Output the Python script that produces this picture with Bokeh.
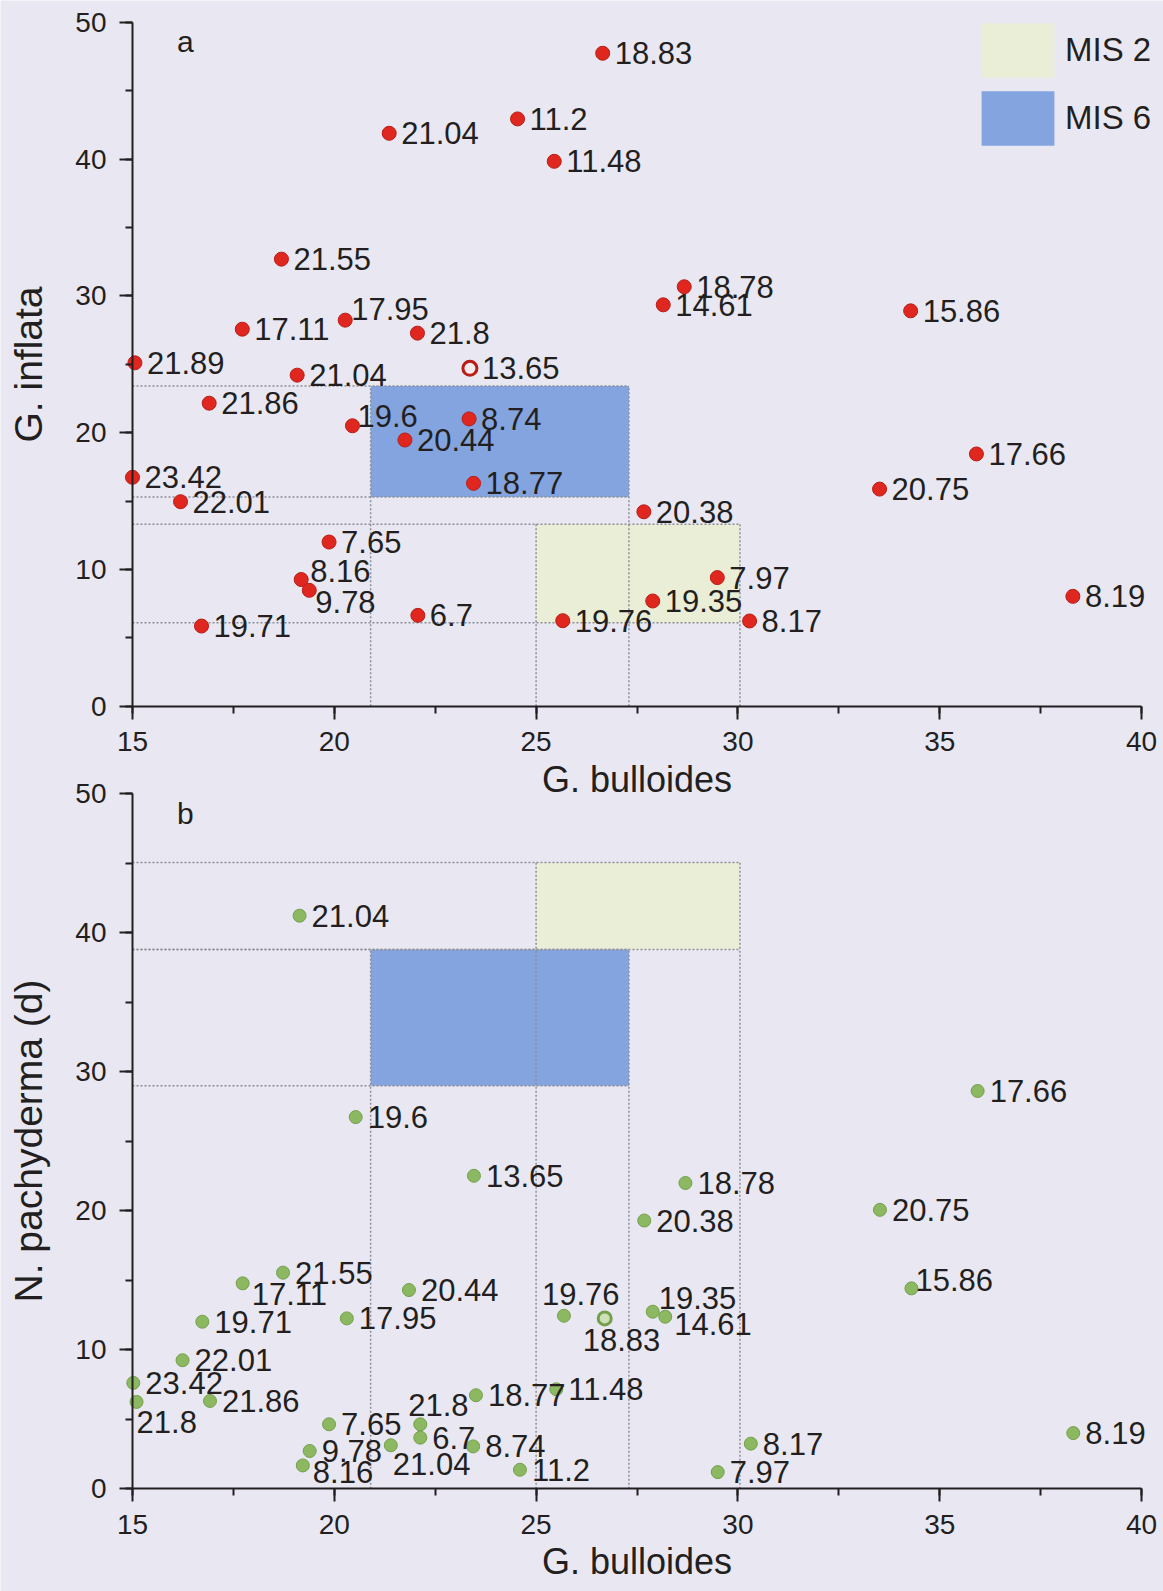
from bokeh.plotting import figure
from bokeh.models import (Range1d, LinearAxis, SingleIntervalTicker, ColumnDataSource,
                          Legend, LegendItem, Label)
from bokeh.core.properties import value
from bokeh.embed import file_html
from bokeh.resources import INLINE

# ---------------- data ----------------
# Panel a: G. bulloides (%) vs G. inflata (%), labelled with SST
a_bull = [26.65, 24.54, 21.36, 25.45, 18.69, 17.72, 20.27, 22.06, 28.67, 28.15, 34.28,
          15.06, 19.08, 23.36, 16.90, 20.45, 23.34, 21.75, 23.45, 15.00, 16.19, 19.87,
          19.18, 19.38, 22.07, 16.71, 25.66, 27.67, 35.91, 33.51, 29.49, 27.89, 30.29, 38.30]
a_infl = [47.73, 42.93, 41.88, 39.83, 32.68, 27.56, 28.22, 27.27, 30.66, 29.34, 28.90,
          25.10, 24.20, 24.70, 22.15, 20.50, 21.00, 19.46, 16.29, 16.73, 14.95, 12.00,
          9.26, 8.47, 6.64, 5.86, 6.25, 14.21, 18.44, 15.87, 9.40, 7.69, 6.23, 8.03]
a_sst = ["18.83", "11.2", "21.04", "11.48", "21.55", "17.11", "17.95", "21.8", "18.78", "14.61", "15.86",
         "21.89", "21.04", "13.65", "21.86", "19.6", "8.74", "20.44", "18.77", "23.42", "22.01", "7.65",
         "8.16", "9.78", "6.7", "19.71", "19.76", "20.38", "17.66", "20.75", "7.97", "19.35", "8.17", "8.19"]

# Panel b: G. bulloides (%) vs N. pachyderma (d) (%), labelled with SST
b_bull = [19.14, 20.53, 35.94, 23.46, 28.70, 27.68, 33.52, 18.73, 17.73, 21.85, 16.73, 20.31,
          16.24, 15.02, 15.10, 16.92, 23.51, 25.50, 19.87, 22.13, 22.13, 21.40, 19.39, 23.44,
          19.22, 24.60, 25.69, 26.70, 27.89, 28.20, 34.30, 30.32, 29.50, 38.31]
b_pach = [41.23, 26.74, 28.62, 22.52, 22.00, 19.30, 20.07, 15.55, 14.78, 14.30, 12.02, 12.26,
          9.25, 7.62, 6.25, 6.32, 6.73, 7.16, 4.64, 4.64, 3.68, 3.13, 2.72, 3.05,
          1.68, 1.37, 12.45, 12.26, 12.74, 12.38, 14.42, 3.25, 1.20, 4.01]
b_sst = ["21.04", "19.6", "17.66", "13.65", "18.78", "20.38", "20.75", "21.55", "17.11", "20.44", "19.71", "17.95",
         "22.01", "23.42", "21.8", "21.86", "18.77", "11.48", "7.65", "21.8", "6.7", "21.04", "9.78", "8.74",
         "8.16", "11.2", "19.76", "18.83", "19.35", "14.61", "15.86", "8.17", "7.97", "8.19"]

# MIS windows (G. bulloides from-to, second species from-to)
mis_labels = ["MIS 2", "MIS 6"]
a_mis2 = (25.0, 30.05, 6.1, 13.3)
a_mis6 = (20.9, 27.3, 15.3, 23.4)
b_mis2 = (25.0, 30.05, 38.8, 45.05)
b_mis6 = (20.9, 27.3, 29.0, 38.8)

x_ticks_lo, x_ticks_hi = 15, 40
y_ticks_lo, y_ticks_hi = 0, 50

# ---------------- styles ----------------
BG = "#e9e8f2"
RED, RED_EDGE = "#e0271f", "#b81d17"
GREEN, GREEN_EDGE = "#8cb862", "#74a04c"
BLUE_BOX, YELLOW_BOX = "#83a4df", "#ebeed6"
DOT = "#8d8d99"
INK = "#231f20"
FONT = "Liberation Sans"

# label offsets in pixels (dx right, dy down); default right of the point
R = (12, 0)
a_label_off = {6: (6, -11), 15: (5, -10), 22: (9, -9), 23: (6, 12)}
b_label_off = {8: (9, 11), 14: (0, 20), 19: (-12, -19), 21: (2, 19), 24: (10, 7),
               26: (-22, -22), 27: (-22, 22), 28: (6, -14), 29: (9, 7), 30: (4, -8)}
a_hollow = {13}
b_hollow = {27}

# ---------------- geometry (pixels); the frame covers the whole canvas ----------------
W, H = 1163, 1591
X15_PX, X40_PX = 132.0, 1141.0
A_Y0_PX, A_Y50_PX = 705.7, 21.7
B_Y0_PX, B_Y50_PX = 1488.3, 793.3

x_ppu = (X40_PX - X15_PX) / 25.0
x_start = 15 - X15_PX / x_ppu
x_end = 40 + (W - X40_PX) / x_ppu
a_ppu = (A_Y0_PX - A_Y50_PX) / 50.0
a_start, a_end = -(H - A_Y0_PX) / a_ppu, 50 + A_Y50_PX / a_ppu
b_ppu = (B_Y0_PX - B_Y50_PX) / 50.0
b_start, b_end = -(H - B_Y0_PX) / b_ppu, 50 + B_Y50_PX / b_ppu

p = figure(width=W, height=H, x_range=Range1d(x_start, x_end), y_range=Range1d(b_start, b_end),
           x_axis_type=None, y_axis_type=None, output_backend="svg", toolbar_location=None,
           min_border=0, min_border_left=0, min_border_right=0, min_border_top=0,
           min_border_bottom=0,
           background_fill_color=BG, border_fill_color=BG, outline_line_color=None)
p.extra_y_ranges = {"a": Range1d(a_start, a_end)}


def style_axis(ax, tick_size, label_size, standoff):
    ax.axis_line_width = 2
    ax.axis_line_color = INK
    ax.major_tick_line_width = 2
    ax.major_tick_line_color = INK
    ax.major_tick_out = 13
    ax.major_tick_in = 0
    ax.minor_tick_line_width = 2
    ax.minor_tick_line_color = INK
    ax.minor_tick_out = 7
    ax.minor_tick_in = 0
    ax.major_label_text_font = FONT
    ax.major_label_text_font_size = tick_size
    ax.major_label_text_color = INK
    ax.major_label_standoff = 13
    ax.axis_label_text_font = FONT
    ax.axis_label_text_font_style = "normal"
    ax.axis_label_text_font_size = label_size
    ax.axis_label_text_color = INK
    ax.axis_label_standoff = standoff


def panel(rname, xs, ys, labels, offs, hollow, fill, edge, hollow_fill, size, mis2, mis6,
          ylabel, tag, tag_y, legend):
    # boxes
    q2 = p.quad(left=[mis2[0]], right=[mis2[1]], bottom=[mis2[2]], top=[mis2[3]],
                fill_color=YELLOW_BOX, line_color=None, y_range_name=rname)
    q6 = p.quad(left=[mis6[0]], right=[mis6[1]], bottom=[mis6[2]], top=[mis6[3]],
                fill_color=BLUE_BOX, line_color=None, y_range_name=rname)
    # dotted projection lines
    x0s, y0s, x1s, y1s = [], [], [], []
    for (l, r, b, t) in (mis2, mis6):
        for xv in (l, r):
            x0s.append(xv); y0s.append(y_ticks_lo); x1s.append(xv); y1s.append(t)
        for yv in (b, t):
            x0s.append(x_ticks_lo); y0s.append(yv); x1s.append(r); y1s.append(yv)
    p.segment(x0=x0s, y0=y0s, x1=x1s, y1=y1s, line_color=DOT, line_width=1.5,
              line_dash="2 2", y_range_name=rname)
    # points
    fills = [hollow_fill if i in hollow else fill for i in range(len(xs))]
    lws = [3 if i in hollow else 1 for i in range(len(xs))]
    src = ColumnDataSource(dict(x=xs, y=ys, t=labels, f=fills, lw=lws,
                                dx=[offs.get(i, R)[0] for i in range(len(xs))],
                                dy=[offs.get(i, R)[1] for i in range(len(xs))]))
    p.scatter(x="x", y="y", source=src, size=size, fill_color="f", line_color=edge,
              line_width="lw", y_range_name=rname)
    p.text(x="x", y="y", text="t", x_offset="dx", y_offset="dy", source=src,
           text_font=value(FONT), text_font_size=value("31px"), text_color=INK,
           text_align="left", text_baseline="middle", y_range_name=rname)
    # axes
    xa = LinearAxis(y_range_name=rname, fixed_location=y_ticks_lo,
                    bounds=(x_ticks_lo, x_ticks_hi),
                    ticker=SingleIntervalTicker(interval=5, num_minor_ticks=2),
                    axis_label="G. bulloides")
    style_axis(xa, "28px", "36px", 4)
    p.add_layout(xa, "below")
    ya = LinearAxis(y_range_name=rname, fixed_location=x_ticks_lo,
                    bounds=(y_ticks_lo, y_ticks_hi),
                    ticker=SingleIntervalTicker(interval=10, num_minor_ticks=2),
                    axis_label=ylabel)
    style_axis(ya, "28px", "39px", 22)
    p.add_layout(ya, "left")
    p.add_layout(Label(x=16.1, y=tag_y, text=tag, y_range_name=rname, text_font=FONT,
                       text_font_size="30px", text_color=INK, text_baseline="middle"))
    if legend:
        lg = Legend(items=[LegendItem(label=mis_labels[0], renderers=[q2]),
                           LegendItem(label=mis_labels[1], renderers=[q6])],
                    location=(972, H - 152), glyph_width=91, glyph_height=68, spacing=0,
                    padding=0, margin=0, label_standoff=2, label_height=68,
                    label_text_font=FONT, label_text_font_size="33px",
                    label_text_color=INK, border_line_color=None,
                    background_fill_alpha=0)
        p.add_layout(lg)


panel("a", a_bull, a_infl, a_sst, a_label_off, a_hollow, RED, RED_EDGE, "#f6ecee", 14,
      a_mis2, a_mis6, "G. inflata", "a", 48.6, True)
panel("default", b_bull, b_pach, b_sst, b_label_off, b_hollow, GREEN, GREEN_EDGE, "#cfe0b8", 13,
      b_mis2, b_mis6, "N. pachyderma (d)", "b", 48.6, False)

open("out.html", "w").write(file_html(p, INLINE))
